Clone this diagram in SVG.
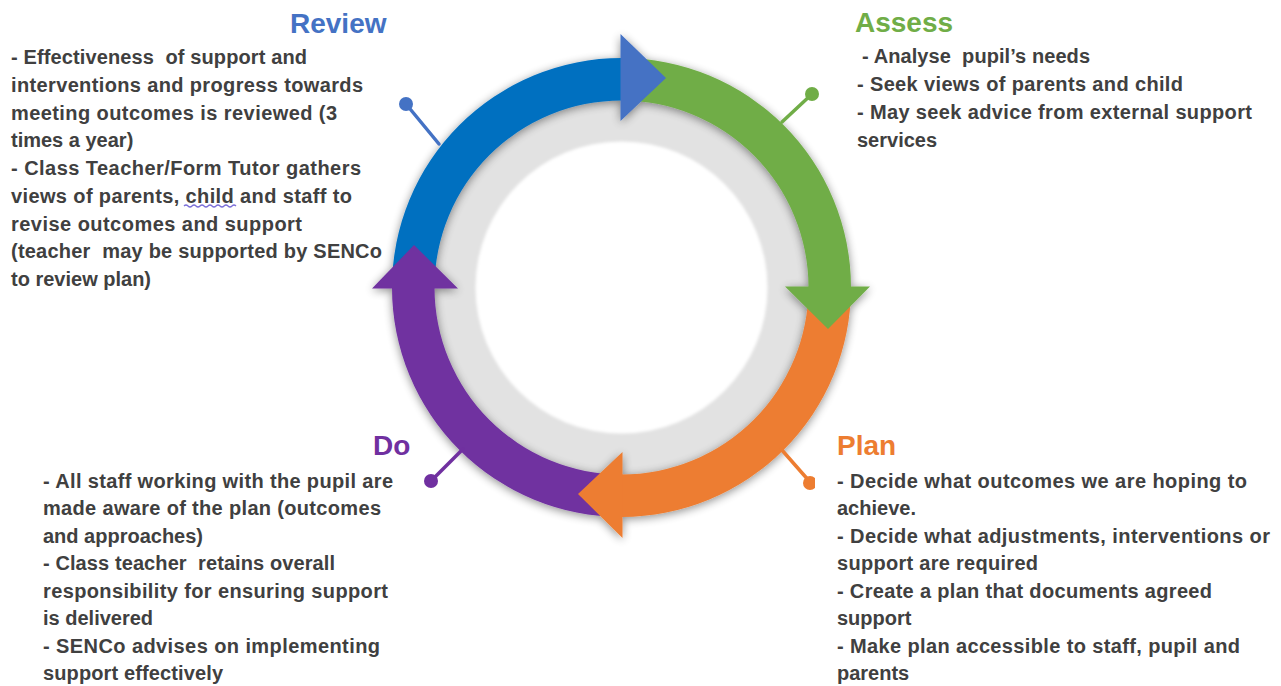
<svg xmlns="http://www.w3.org/2000/svg" width="1281" height="686" viewBox="0 0 1281 686">
<defs>
<style>
.title{font-family:"Liberation Sans",Arial,sans-serif;font-weight:bold;font-size:28px}
.body{font-family:"Liberation Sans",Arial,sans-serif;font-weight:bold;font-size:20px;fill:#404040;white-space:pre}
.pin{stroke-width:3.5;fill:none;stroke-linecap:round}
</style>
<filter id="sh" x="-20%" y="-20%" width="140%" height="140%">
<feGaussianBlur in="SourceAlpha" stdDeviation="5"/>
<feOffset dy="2"/>
<feComponentTransfer><feFuncA type="linear" slope="0.45"/></feComponentTransfer>
<feMerge><feMergeNode/><feMergeNode in="SourceGraphic"/></feMerge>
</filter>
<filter id="soft" x="-10%" y="-10%" width="120%" height="120%">
<feGaussianBlur stdDeviation="1.5"/>
</filter>
<clipPath id="clipPlanPin"><rect x="700" y="400" width="115" height="120"/></clipPath>
</defs>
<rect width="1281" height="686" fill="#ffffff"/>

<g id="ring">
<circle cx="621.5" cy="287.5" r="200" fill="#e2e2e2"/>
<circle cx="621.5" cy="287.5" r="146" fill="#ffffff" filter="url(#soft)"/>
</g>

<g id="connectors">
<g id="cycle" filter="url(#sh)">
<path id="arc-review" d="M392,287.5 A229.5,229.5 0 0 1 621.5,58 L621.5,100.5 A187,187 0 0 0 434.5,287.5 Z" fill="#0070C0"/>
<path id="arc-assess" d="M621.5,58 A229.5,229.5 0 0 1 851,287.5 L808.5,287.5 A187,187 0 0 0 621.5,100.5 Z" fill="#70AD47"/>
<path id="arc-plan" d="M851,287.5 A229.5,229.5 0 0 1 621.5,517 L621.5,474.5 A187,187 0 0 0 808.5,287.5 Z" fill="#ED7D31"/>
<path id="arc-do" d="M621.5,517 A229.5,229.5 0 0 1 392,287.5 L434.5,287.5 A187,187 0 0 0 621.5,474.5 Z" fill="#7030A0"/>
<polygon points="620.5,34 620.5,121 666,78" fill="#4472C4"/>
<polygon points="785,286.5 870,286.5 828,329" fill="#70AD47"/>
<polygon points="622.5,452 622.5,538 578,494" fill="#ED7D31"/>
<polygon points="372,288.5 458,288.5 414,245" fill="#7030A0"/>
</g>
<g id="pins">
<line class="pin" x1="439" y1="144" x2="406" y2="104" stroke="#4472C4"/>
<circle cx="406" cy="104" r="7" fill="#4472C4"/>
<line class="pin" x1="782" y1="122" x2="812" y2="94" stroke="#70AD47"/>
<circle cx="812" cy="94" r="7" fill="#70AD47"/>
<g clip-path="url(#clipPlanPin)">
<line class="pin" x1="781" y1="449" x2="810" y2="482" stroke="#ED7D31"/>
<circle cx="810" cy="483" r="7" fill="#ED7D31"/>
</g>
<line class="pin" x1="463" y1="449" x2="431" y2="481" stroke="#7030A0"/>
<circle cx="431" cy="481" r="7" fill="#7030A0"/>
</g>
</g>

<g id="review">
<text class="title" x="290" y="33" fill="#4472C4">Review</text>
<text class="body" x="11" y="64" textLength="296" lengthAdjust="spacing" xml:space="preserve">- Effectiveness  of support and</text>
<text class="body" x="11" y="92" textLength="352" lengthAdjust="spacing">interventions and progress towards</text>
<text class="body" x="11" y="120" textLength="326" lengthAdjust="spacing">meeting outcomes is reviewed (3</text>
<text class="body" x="11" y="147">times a year)</text>
<text class="body" x="11" y="175" textLength="350" lengthAdjust="spacing">- Class Teacher/Form Tutor gathers</text>
<text class="body" x="11" y="203" textLength="341" lengthAdjust="spacing">views of parents, child and staff to</text>
<text class="body" x="11" y="231" textLength="291" lengthAdjust="spacing">revise outcomes and support</text>
<text class="body" x="11" y="258" textLength="371" lengthAdjust="spacing" xml:space="preserve">(teacher  may be supported by SENCo</text>
<text class="body" x="11" y="286">to review plan)</text>
<path d="M184,206 q2,-2 4,0 t4,0 t4,0 t4,0 t4,0 t4,0 t4,0 t4,0 t4,0 t4,0 t4,0 t4,0 t4,0" fill="none" stroke="#7b6fd8" stroke-width="1.3"/>
</g>

<g id="assess">
<text class="title" x="855" y="32" fill="#70AD47">Assess</text>
<text class="body" x="862" y="63" textLength="228" lengthAdjust="spacing" xml:space="preserve">- Analyse  pupil’s needs</text>
<text class="body" x="857" y="91" textLength="326" lengthAdjust="spacing">- Seek views of parents and child</text>
<text class="body" x="857" y="119" textLength="395" lengthAdjust="spacing">- May seek advice from external support</text>
<text class="body" x="857" y="147">services</text>
</g>

<g id="do">
<text class="title" x="373" y="455" fill="#7030A0">Do</text>
<text class="body" x="43" y="488" textLength="350" lengthAdjust="spacing">- All staff working with the pupil are</text>
<text class="body" x="43" y="515" textLength="338" lengthAdjust="spacing">made aware of the plan (outcomes</text>
<text class="body" x="43" y="543" textLength="160" lengthAdjust="spacing">and approaches)</text>
<text class="body" x="43" y="570" textLength="292" lengthAdjust="spacing" xml:space="preserve">- Class teacher  retains overall</text>
<text class="body" x="43" y="598" textLength="345" lengthAdjust="spacing">responsibility for ensuring support</text>
<text class="body" x="43" y="625">is delivered</text>
<text class="body" x="43" y="653" textLength="337" lengthAdjust="spacing">- SENCo advises on implementing</text>
<text class="body" x="43" y="680" textLength="180" lengthAdjust="spacing">support effectively</text>
</g>

<g id="plan">
<text class="title" x="837" y="455" fill="#ED7D31">Plan</text>
<text class="body" x="837" y="488" textLength="410" lengthAdjust="spacing">- Decide what outcomes we are hoping to</text>
<text class="body" x="837" y="515">achieve.</text>
<text class="body" x="837" y="543" textLength="433" lengthAdjust="spacing">- Decide what adjustments, interventions or</text>
<text class="body" x="837" y="570" textLength="201" lengthAdjust="spacing">support are required</text>
<text class="body" x="837" y="598" textLength="375" lengthAdjust="spacing">- Create a plan that documents agreed</text>
<text class="body" x="837" y="625">support</text>
<text class="body" x="837" y="653" textLength="403" lengthAdjust="spacing">- Make plan accessible to staff, pupil and</text>
<text class="body" x="837" y="680">parents</text>
</g>
</svg>
